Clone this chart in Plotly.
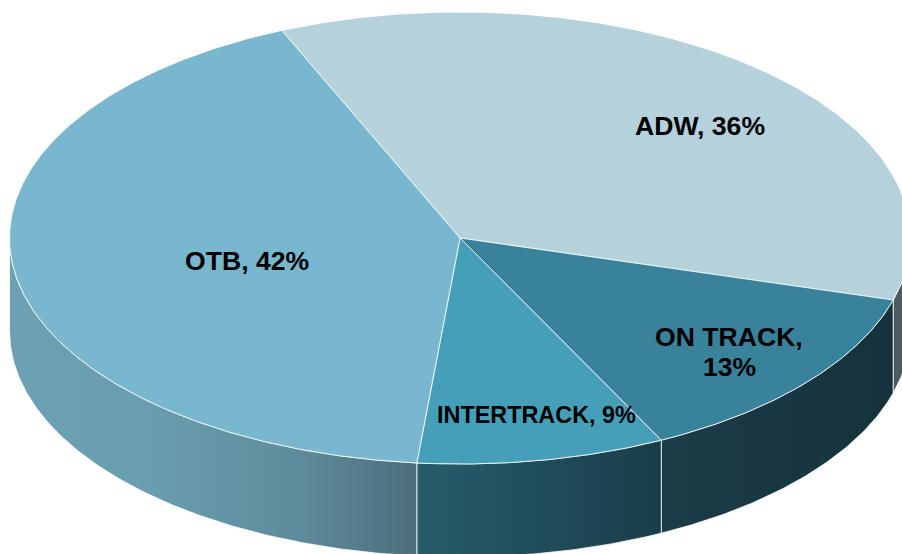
import numpy as np
import plotly.graph_objects as go

# Data
categories = ["ADW", "ON TRACK", "INTERTRACK", "OTB"]
shares = [35.9, 13.2, 8.9, 42.0]

# Style
top_colors = ["#B5D1DC", "#38829B", "#469FB9", "#79B7CE"]
wall_stops = [
    [[0, "#4C5C62"], [1, "#4A5A60"]],
    [[0, "#1B3C48"], [1, "#16323C"]],
    [[0, "#265D6C"], [1, "#1A3D48"]],
    [[0, "#6CA1B4"], [0.35, "#699DAF"], [0.7, "#5F8C9C"], [1, "#4D6E7A"]],
]
label_text = ["ADW, 36%", "ON TRACK,", "13%", "INTERTRACK, 9%", "OTB, 42%"]
label_xy = [(700, 126), (729, 337), (729, 367), (536, 415), (247, 261)]
label_size = [26.6, 26.6, 26.6, 23.4, 26.6]

# Pie geometry (pixels of the 902x554 plot area)
CX, CY, RX, RY, DEPTH = 460.0, 238.0, 450.5, 226.0, 93.0
START_DEG = -23.3
EDGE = "rgba(255,255,255,0.8)"


def rim(a0, a1):
    t = np.radians(np.linspace(a0, a1, max(int(abs(a1 - a0) * 2), 2)))
    return CX + RX * np.sin(t), CY - RY * np.cos(t)


fig = go.Figure()
edges = START_DEG + np.concatenate([[0], np.cumsum(shares)]) * 360.0 / sum(shares)

# Side walls: only the part of the rim facing the viewer (90 to 270 degrees)
for i, name in enumerate(categories):
    a0, a1 = max(edges[i], 90.0), min(edges[i + 1], 270.0)
    if a1 <= a0:
        continue
    x, y = rim(a0, a1)
    fig.add_trace(go.Scatter(
        x=np.concatenate([x, x[::-1], x[:1]]),
        y=np.concatenate([y, y[::-1] + DEPTH, y[:1]]),
        mode="lines", fill="toself",
        fillgradient=dict(type="horizontal", colorscale=wall_stops[i]),
        line=dict(color=EDGE, width=1),
        hoverinfo="skip", showlegend=False,
    ))

# Top faces
for i, name in enumerate(categories):
    x, y = rim(edges[i], edges[i + 1])
    fig.add_trace(go.Scatter(
        x=np.concatenate([[CX], x, [CX]]),
        y=np.concatenate([[CY], y, [CY]]),
        mode="lines", fill="toself", fillcolor=top_colors[i],
        line=dict(color=EDGE, width=1),
        name=name, hovertemplate=f"{name}: {round(shares[i])}%<extra></extra>",
        showlegend=False,
    ))

annotations = [
    dict(x=px, y=py, xref="x", yref="y", text=f"<b>{t}</b>", showarrow=False,
         xanchor="center", yanchor="middle",
         font=dict(family="Liberation Sans, Arial, sans-serif", size=s, color="#000000"))
    for t, (px, py), s in zip(label_text, label_xy, label_size)
]

fig.update_layout(
    width=902, height=554, margin=dict(l=0, r=0, t=0, b=0),
    paper_bgcolor="white", plot_bgcolor="white",
    xaxis=dict(range=[0, 902], visible=False, fixedrange=True),
    yaxis=dict(range=[554, 0], visible=False, fixedrange=True),
    annotations=annotations, showlegend=False,
)
fig.write_html("out.html", config={"displayModeBar": False},
               post_script="document.body.style.margin='0';document.body.style.overflow='hidden';")
